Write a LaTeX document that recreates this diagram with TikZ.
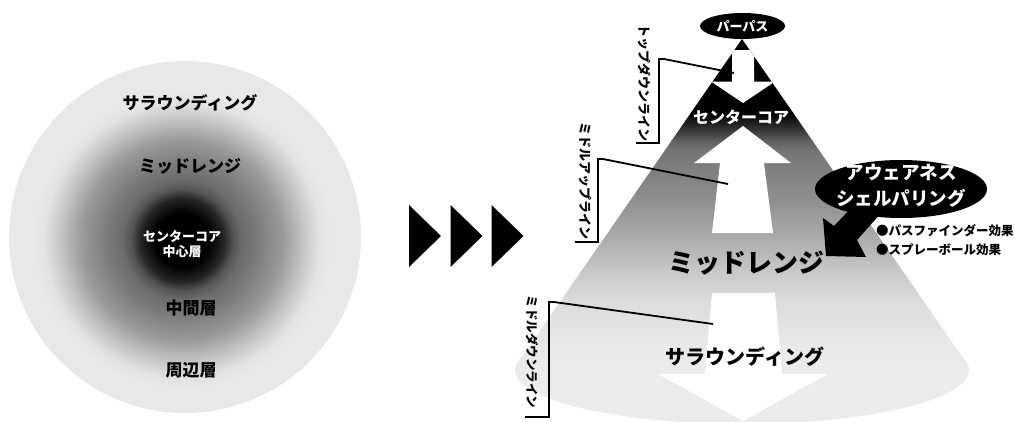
\documentclass[tikz,border=0pt]{standalone}
\usepackage{fontspec}
\newfontfamily\jp{Noto Sans CJK JP}[BoldFont={Noto Sans CJK JP Black}]
\pgfdeclareradialshading{coreshade}{\pgfpoint{0bp}{0bp}}{color(0bp)=(black); color(4.5bp)=(black); color(7bp)=(black!85); color(8.5bp)=(black!67); color(10bp)=(black!58); color(12.5bp)=(black!52); color(16.67bp)=(black!40); color(20bp)=(black!24); color(23bp)=(black!11); color(25bp)=(black!9); color(50bp)=(black!9)}
\tikzset{
  lbl/.style={font={\jp\bfseries\fontsize{#1}{#1}\selectfont}, inner sep=0pt},
  vlbl/.style={lbl=#1, rotate=-90},
  bracket/.style={draw=black, line width=1.8pt},
  whitearrow/.style={fill=white},
  playtri/.style={fill=black},
}
\begin{document}
\begin{tikzpicture}[x=1pt,y=-1pt]
\useasboundingbox (0,0) rectangle (1015,421);

% ---------- left circle ----------
\fill[black!9] (185,237) circle (176pt);
\shade[shading=coreshade] (182,240) circle (150pt);
\node[lbl=17] (lsur) at (190,103) {サラウンディング};
\node[lbl=17] (lmid) at (190,166) {ミッドレンジ};
\node[lbl=13, text=white, align=center, font={\jp\bfseries\fontsize{13}{15.5}\selectfont}] (lcore) at (182,244) {センターコア\\中心層};
\node[lbl=17] (lmidl) at (191,308) {中間層};
\node[lbl=17] (louter) at (191,370) {周辺層};

% ---------- three triangles ----------
\fill[playtri] (409,205) -- (441,236) -- (409,267) -- cycle;
\fill[playtri] (450.5,205) -- (482.5,236) -- (450.5,267) -- cycle;
\fill[playtri] (491.5,205) -- (523.5,236) -- (491.5,267) -- cycle;

% ---------- cone ----------
\coordinate (apex) at (742,39);
\coordinate (cl) at (519,361);
\coordinate (cr) at (965,361);
\fill[black!8] (742,370) ellipse [x radius=227pt, y radius=54pt];
\begin{scope}
  \clip (apex) -- (cl) -- (cr) -- cycle;
  \fill[black] (500,30) rectangle (1000,112.5);
  \foreach \ya/\yb/\ca/\cb in {112/125.5/100/85, 125/140.5/85/63, 140/150.5/63/54, 150/200.5/54/44, 200/240.5/44/32, 240/270.5/32/22, 270/300.5/22/14, 300/340.5/14/9, 340/365/9/8}
    \shade[top color=black!\ca, bottom color=black!\cb] (500,\ya) rectangle (1000,\yb);
  % top-down arrow (white)
  \fill[whitearrow] (732,50) -- (754,50) -- (754,81.5) -- (775,81.5) -- (743,103) -- (711,81.5) -- (732,81.5) -- cycle;
\end{scope}
% middle-up arrow
\fill[whitearrow] (743,126) -- (791,163) -- (764,163) -- (773,233) -- (712,233) -- (720,163) -- (694,163) -- cycle;
% middle-down arrow
\fill[whitearrow] (712,293) -- (775,293) -- (782,374) -- (828,374) -- (743,421) -- (658,374) -- (705,374) -- cycle;

% ---------- purpose ----------
\fill[black] (742.5,26) ellipse [x radius=42.5pt, y radius=13pt];
\node[lbl=13, text=white] (purpose) at (742.5,26) {パーパス};

\node[lbl=16, text=white] (rcore) at (741,117) {センターコア};
\node[lbl=26] (rmid) at (746,263) {ミッドレンジ};
\node[lbl=20] (rsur) at (745,357) {サラウンディング};

% ---------- awareness callout ----------
\fill[black] (901,189) ellipse [x radius=86pt, y radius=29pt];
\fill[black] (826,256) -- (823,218) -- (834,226) -- (856,203) -- (882,212) -- (857,240) -- (866,257) -- cycle;
\node[lbl=18.5, text=white, align=center, font={\jp\bfseries\fontsize{18.5}{26}\selectfont}] (aware) at (901,186) {アウェアネス\\シェルパリング};
\node[lbl=12.5, anchor=west] (eff1) at (876,231) {●パスファインダー効果};
\node[lbl=12.5, anchor=west] (eff2) at (876,250) {●スプレーボール効果};

% ---------- line labels ----------
\node[vlbl=13] (tdl) at (645,82.5) {トップダウンライン};
\node[vlbl=13] (mul) at (585,181) {ミドルアップライン};
\node[vlbl=12.5] (mdl) at (532,352) {ミドルダウンライン};

\coordinate (b1a) at (636,143);
\coordinate (b1b) at (659,143);
\coordinate (b1c) at (659,59);
\coordinate (b1d) at (664,59);
\coordinate (b1e) at (734,73);
\draw[bracket] (b1a) -- (b1b) -- (b1c) -- (b1d) -- (b1e);

\coordinate (b2a) at (575,242);
\coordinate (b2b) at (598,242);
\coordinate (b2c) at (598,159);
\coordinate (b2d) at (603,159);
\coordinate (b2e) at (728,184);
\draw[bracket] (b2a) -- (b2b) -- (b2c) -- (b2d) -- (b2e);

\coordinate (b3a) at (525,417);
\coordinate (b3b) at (549,417);
\coordinate (b3c) at (549,302);
\coordinate (b3d) at (554,302);
\coordinate (b3e) at (713,324);
\draw[bracket] (b3a) -- (b3b) -- (b3c) -- (b3d) -- (b3e);
\end{tikzpicture}
\end{document}
